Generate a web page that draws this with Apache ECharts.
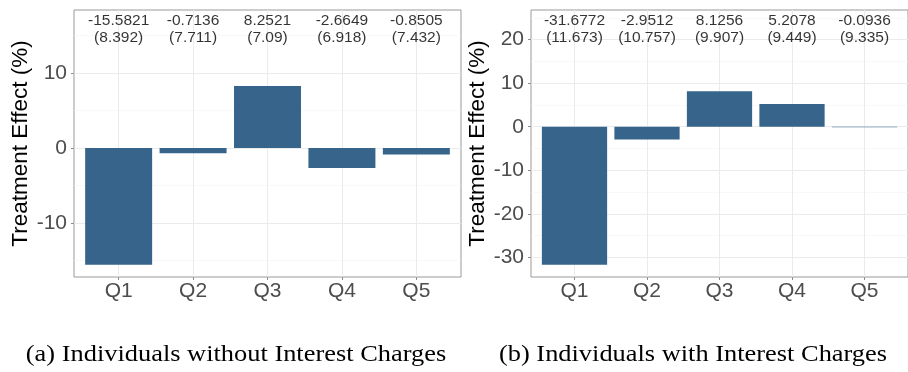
<!DOCTYPE html>
<html>
<head>
<meta charset="utf-8">
<script src="https://cdn.jsdelivr.net/npm/echarts@6/dist/echarts.min.js"></script>
<style>
html,body{margin:0;padding:0;background:#fff;}
#chart{width:908px;height:372px;}
</style>
</head>
<body>
<div id="chart"></div>
<script>
// ---- data ----
const categories = ['Q1', 'Q2', 'Q3', 'Q4', 'Q5'];
const estimatesA = [-15.5821, -0.7136, 8.2521, -2.6649, -0.8505];
const stdErrA = [8.392, 7.711, 7.09, 6.918, 7.432];
const estimatesB = [-31.6772, -2.9512, 8.1256, 5.2078, -0.0936];
const stdErrB = [11.673, 10.757, 9.907, 9.449, 9.335];
const yTicksA = [-10, 0, 10];
const yMinorA = [-15, -5, 5, 15];
const yTicksB = [-30, -20, -10, 0, 10, 20];
const yMinorB = [-25, -15, -5, 5, 15, 25];
const captionA = '(a) Individuals without Interest Charges';
const captionB = '(b) Individuals with Interest Charges';
const yTitle = 'Treatment Effect (%)';

const xPos = categories.map((c, i) => i + 1);
const FONT = 'Liberation Sans, Arial, sans-serif';
const BAR = '#36648B';

function xAxisFor(gridIndex) {
  return {
    type: 'value', gridIndex, min: 0.4, max: 5.6,
    axisLine: {show: false, onZero: false},
    axisTick: {show: true, customValues: xPos, length: 3, lineStyle: {color: '#8c8c8c'}},
    axisLabel: {customValues: xPos, formatter: v => categories[Math.round(v) - 1] || '',
      fontFamily: FONT, fontSize: 21, color: '#4D4D4D', margin: 4},
    splitLine: {show: true, lineStyle: {color: '#EBEBEB', width: 1}}
  };
}
function yMajor(gridIndex, min, max, ticks, gap) {
  return {
    type: 'value', gridIndex, min, max,
    name: yTitle, nameLocation: 'middle', nameGap: gap, nameRotate: 90,
    nameTextStyle: {fontFamily: FONT, fontSize: 22.5, color: '#000'},
    axisLine: {show: false, onZero: false},
    axisTick: {show: true, customValues: ticks, length: 3, lineStyle: {color: '#8c8c8c'}},
    axisLabel: {customValues: ticks, fontFamily: FONT, fontSize: 21, color: '#4D4D4D', margin: 7},
    splitLine: {show: true, lineStyle: {color: '#EBEBEB', width: 1.1}}
  };
}
function yMinor(gridIndex, min, max, ticks) {
  return {
    type: 'value', gridIndex, min, max,
    axisLine: {show: false, onZero: false},
    axisTick: {show: false, customValues: ticks},
    axisLabel: {show: false, customValues: ticks},
    splitLine: {show: true, lineStyle: {color: '#F3F3F3', width: 0.6}}
  };
}
function labelSeries(xi, yi, est, se, yText) {
  return {
    type: 'scatter', xAxisIndex: xi, yAxisIndex: yi, symbolSize: 0, silent: true,
    data: xPos.map(x => [x, yText]),
    label: {show: true, position: 'inside',
      formatter: p => String(est[p.dataIndex]) + '\n(' + String(se[p.dataIndex]) + ')',
      fontFamily: FONT, fontSize: 15.5, lineHeight: 17, color: '#000'},
    z: 5
  };
}
function barSeries(xi, yi, est) {
  return {
    type: 'bar', xAxisIndex: xi, yAxisIndex: yi, barWidth: '90%',
    data: est.map((v, i) => [xPos[i], v]),
    itemStyle: {color: BAR}, silent: true
  };
}
const capFont = '24px "Liberation Serif", "Times New Roman", serif';

const chart = echarts.init(document.getElementById('chart'), null, {renderer: 'canvas'});
chart.setOption({
  animation: false,
  backgroundColor: '#fff',
  grid: [
    {left: 74, top: 10, width: 387, height: 267, show: true, borderColor: '#999', borderWidth: 1, backgroundColor: 'transparent'},
    {left: 531, top: 10, width: 384.8, height: 267, show: true, borderColor: '#999', borderWidth: 1, backgroundColor: 'transparent'}
  ],
  xAxis: [xAxisFor(0), xAxisFor(1)],
  yAxis: [
    yMajor(0, -17.2, 18.4, yTicksA, 40),
    yMinor(0, -17.2, 18.4, yMinorA),
    yMajor(1, -34.5, 26.8, yTicksB, 41),
    yMinor(1, -34.5, 26.8, yMinorB)
  ],
  series: [
    barSeries(0, 0, estimatesA),
    labelSeries(0, 0, estimatesA, stdErrA, 15.9),
    barSeries(1, 2, estimatesB),
    labelSeries(1, 2, estimatesB, stdErrB, 22.4)
  ],
  graphic: [
    {type: 'text', x: 236, y: 355, scaleX: 1.1, style: {text: captionA, font: capFont, fill: '#000', textAlign: 'center', textVerticalAlign: 'middle'}},
    {type: 'text', x: 693, y: 355, scaleX: 1.1, style: {text: captionB, font: capFont, fill: '#000', textAlign: 'center', textVerticalAlign: 'middle'}}
  ]
});
</script>
</body>
</html>
